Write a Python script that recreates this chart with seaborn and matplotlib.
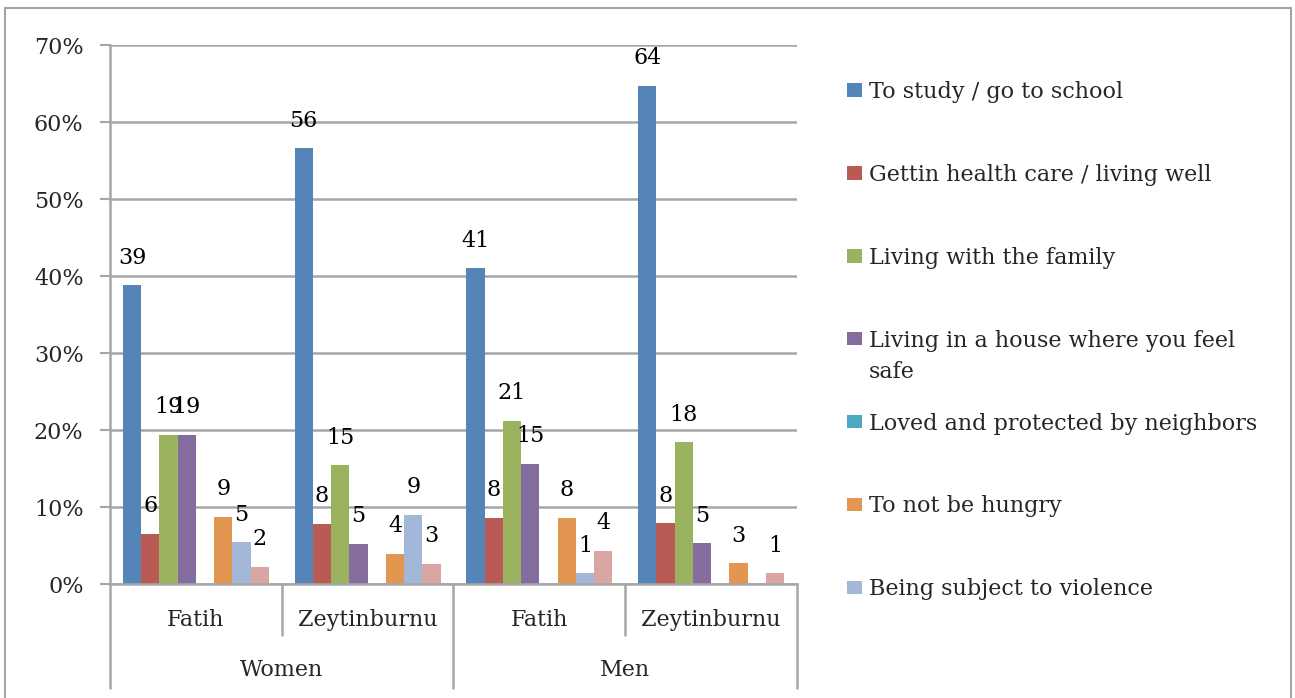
import numpy as np
import pandas as pd
import matplotlib
matplotlib.use("Agg")
import matplotlib.pyplot as plt
from matplotlib.patches import Patch, Rectangle
import seaborn as sns

# --- data (percent) ---
genders = ["Women", "Women", "Men", "Men"]
districts = ["Fatih", "Zeytinburnu", "Fatih", "Zeytinburnu"]
series = ["To study / go to school", "Gettin health care / living well",
          "Living with the family", "Living in a house where you feel safe",
          "Loved and protected by neighbors", "To not be hungry",
          "Being subject to violence", "Other"]

study = [38.8, 56.6, 41.0, 64.7]
health = [6.5, 7.8, 8.6, 7.9]
family = [19.4, 15.4, 21.2, 18.4]
house = [19.4, 5.2, 15.6, 5.3]
neighbors = [0, 0, 0, 0]
hungry = [8.7, 3.9, 8.6, 2.7]
violence = [5.4, 9.0, 1.4, 0]
other = [2.2, 2.6, 4.3, 1.4]

# data labels as printed on the chart (blank where no label)
study_lbl = ["39", "56", "41", "64"]
health_lbl = ["6", "8", "8", "8"]
family_lbl = ["19", "15", "21", "18"]
house_lbl = ["19", "5", "15", "5"]
neighbors_lbl = ["", "", "", ""]
hungry_lbl = ["9", "4", "8", "3"]
violence_lbl = ["5", "9", "1", ""]
other_lbl = ["2", "3", "4", "1"]

yticks = [0, 10, 20, 30, 40, 50, 60, 70]
colors = ["#5484B8", "#B95A55", "#9BB25F", "#846C9E", "#4BA9C2",
          "#E3964F", "#A3B7D9", "#DAA6A4"]

values = [study, health, family, house, neighbors, hungry, violence, other]
labels = [study_lbl, health_lbl, family_lbl, house_lbl, neighbors_lbl,
          hungry_lbl, violence_lbl, other_lbl]

cats = [f"{g} {d}" for g, d in zip(genders, districts)]
rows = []
for s, vals in zip(series, values):
    for c, v in zip(cats, vals):
        rows.append({"cat": c, "series": s, "value": v})
df = pd.DataFrame(rows)

sns.set_style("white")
plt.rcParams["font.family"] = ["DejaVu Serif"]
FS = 16
GRID = "#A6A6A6"

fig = plt.figure(figsize=(12.95, 6.98), dpi=100)
ax = fig.add_axes([0.0849, 0.1633, 0.5305, 0.7722])

sns.barplot(data=df, x="cat", y="value", hue="series", order=cats,
            hue_order=series, palette=colors, saturation=1, width=0.85,
            linewidth=0, legend=False, ax=ax)

for cont, lbl in zip(ax.containers, labels):
    ax.bar_label(cont, labels=lbl, padding=12, fontsize=FS, color="black")

ax.set_xlim(-0.5, 3.5)
ax.set_ylim(0, 70)
ax.set_yticks(yticks)
ax.set_yticklabels([f"{t}%" for t in yticks], fontsize=FS)
ax.yaxis.grid(True, color=GRID, linewidth=1.8)
ax.set_axisbelow(True)
ax.tick_params(axis="y", direction="out", length=7, width=1.5, color=GRID,
               pad=12, left=True)
ax.set_xticks([])
ax.set_xlabel("")
ax.set_ylabel("")
for side in ["top", "right"]:
    ax.spines[side].set_visible(False)
for side in ["left", "bottom"]:
    ax.spines[side].set_color(GRID)
    ax.spines[side].set_linewidth(1.8)

# two-level category axis
tr = ax.get_xaxis_transform()
for x, depth in [(-0.5, -0.193), (0.5, -0.0946), (1.5, -0.193),
                 (2.5, -0.0946), (3.5, -0.193)]:
    ax.plot([x, x], [0, depth], transform=tr, color=GRID, lw=1.8,
            clip_on=False)
for i, d in enumerate(districts):
    ax.text(i, -0.067, d, transform=tr, ha="center", va="center", fontsize=FS)
for i, g in enumerate(genders[::2]):
    ax.text(2 * i + 0.5, -0.16, g, transform=tr, ha="center", va="center",
            fontsize=FS)

# legend (the last series is not listed in the reference legend)
leg_labels = series[:7]
leg_labels[3] = "Living in a house where you feel"
handles = [Patch(facecolor=c, edgecolor="none") for c in colors[:7]]
leg = fig.legend(handles, leg_labels, loc="upper left",
                 bbox_to_anchor=(0.654, 0.884), frameon=False, fontsize=FS,
                 handlelength=0.68, handleheight=0.55, handletextpad=0.3,
                 labelspacing=2.74, borderpad=0, borderaxespad=0)

fig.canvas.draw()
bb = leg.get_texts()[3].get_window_extent()
fig.text(bb.x0 / fig.bbox.width, (bb.y0 - 31) / fig.bbox.height, "safe",
         fontsize=FS, ha="left", va="bottom")

# outer chart frame
fig.add_artist(Rectangle((0.0039, -0.02), 0.993, 1.0085, transform=fig.transFigure,
                         fill=False, edgecolor=GRID, linewidth=1.5))

fig.savefig("out.png", dpi=100)
